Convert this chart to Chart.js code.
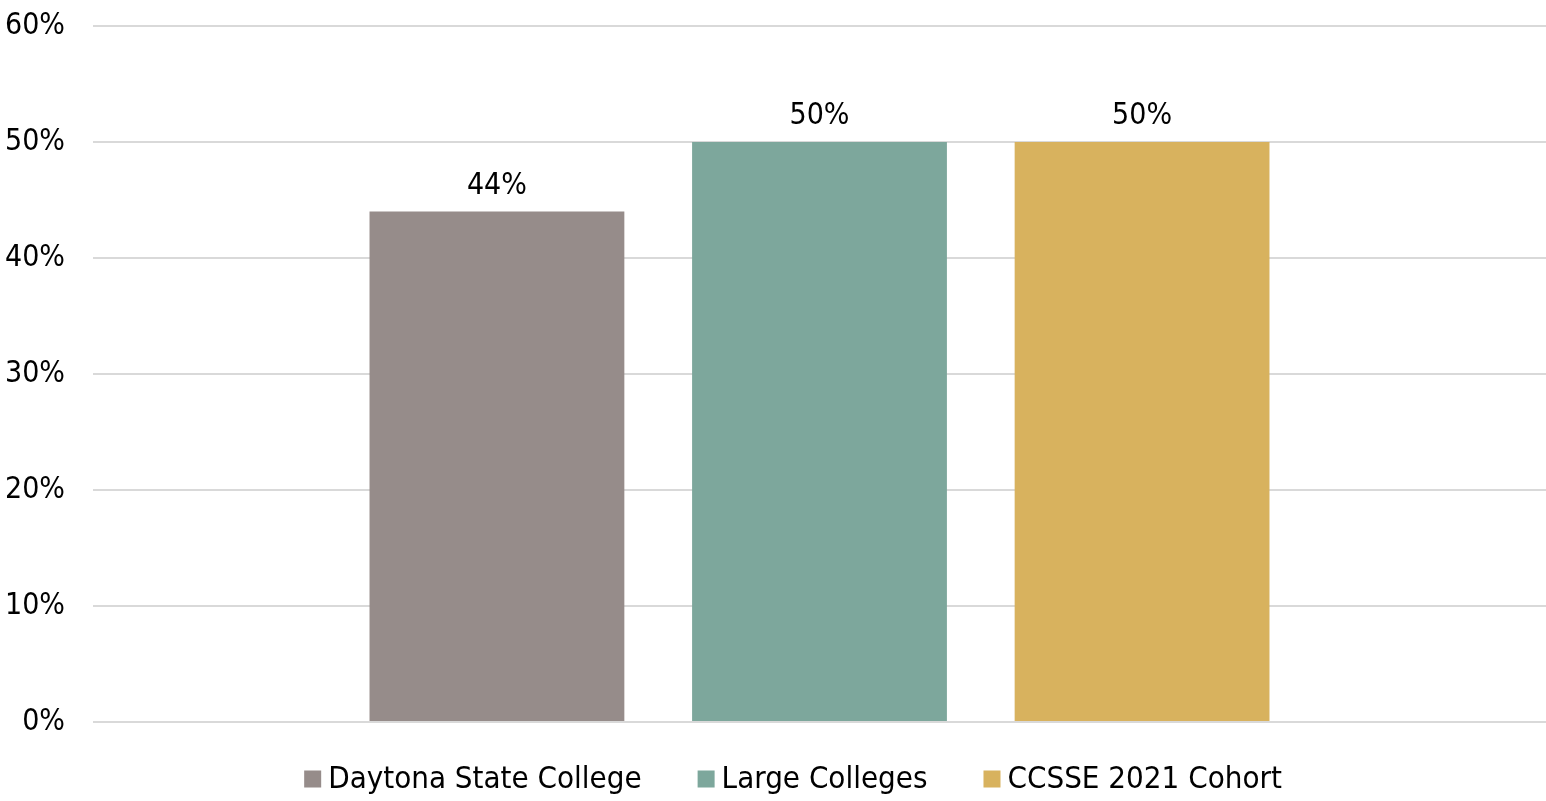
<!DOCTYPE html>
<html>
<head>
<meta charset="utf-8">
<script src="https://cdn.jsdelivr.net/npm/chart.js@4.4.0/dist/chart.umd.min.js"></script>
<style>
  html, body { margin: 0; padding: 0; background: #fff; }
  #wrap { width: 1546px; height: 801px; position: relative; }
</style>
</head>
<body>
<div id="wrap"><canvas id="chart"></canvas></div>
<script>
// Data
const categories = [''];
const seriesNames = ['Daytona State College', 'Large Colleges', 'CCSSE 2021 Cohort'];
const seriesValues = [44, 50, 50];
const seriesColors = ['#968c8a', '#7da79c', '#d8b25e'];
const yTicks = [0, 10, 20, 30, 40, 50, 60];

const FONT = "'DejaVu Sans Condensed', 'DejaVu Sans', sans-serif";

// value labels above each bar
const barLabels = {
  id: 'barLabels',
  afterDatasetsDraw(chart) {
    const ctx = chart.ctx;
    ctx.save();
    ctx.font = '30px ' + FONT;
    ctx.fillStyle = '#000';
    ctx.textAlign = 'center';
    ctx.textBaseline = 'alphabetic';
    chart.data.datasets.forEach((ds, i) => {
      const meta = chart.getDatasetMeta(i);
      meta.data.forEach((bar, j) => {
        ctx.fillText(ds.data[j] + '%', bar.x, bar.y - 18);
      });
    });
    ctx.restore();
  }
};

// legend drawn below the plot, Excel style (small gap between swatch and text)
const bottomLegend = {
  id: 'bottomLegend',
  afterDraw(chart) {
    const ctx = chart.ctx;
    const box = 17, gap = 7, spacing = 56;
    ctx.save();
    ctx.font = '31px ' + FONT;
    ctx.textBaseline = 'middle';
    const items = chart.data.datasets.map(ds => ({
      text: ds.label, color: ds.backgroundColor, w: ctx.measureText(ds.label).width
    }));
    const total = items.reduce((s, it) => s + box + gap + it.w, 0) + spacing * (items.length - 1);
    let x = 793 - total / 2;
    const cy = chart.chartArea.bottom + 57;
    items.forEach(it => {
      ctx.fillStyle = it.color;
      ctx.fillRect(x, cy - box / 2, box, box);
      ctx.fillStyle = '#000';
      ctx.fillText(it.text, x + box + gap, cy + 1);
      x += box + gap + it.w + spacing;
    });
    ctx.restore();
  }
};

const datasets = seriesNames.map((name, i) => ({
  label: name,
  data: [seriesValues[i]],
  backgroundColor: seriesColors[i],
  borderWidth: 0,
  categoryPercentage: 0.666,
  barPercentage: 0.79
}));

new Chart(document.getElementById('chart'), {
  type: 'bar',
  data: { labels: categories, datasets: datasets },
  plugins: [barLabels, bottomLegend],
  options: {
    responsive: true,
    maintainAspectRatio: false,
    animation: false,
    layout: { padding: { top: 26, right: 0, bottom: 79, left: 0 } },
    plugins: {
      tooltip: { enabled: false },
      legend: { display: false }
    },
    scales: {
      x: { display: false },
      y: {
        min: 0,
        max: 60,
        afterBuildTicks(scale) {
          scale.ticks = yTicks.map(v => ({ value: v }));
        },
        afterFit(scale) {
          scale.width = 93;
          scale.paddingTop = 0;
          scale.paddingBottom = 0;
        },
        border: { display: false },
        grid: { color: '#d9d9d9', lineWidth: 2, drawTicks: false },
        ticks: {
          color: '#000',
          padding: 28,
          font: { family: FONT, size: 30 },
          callback: v => v + '%'
        }
      }
    }
  }
});
</script>
</body>
</html>
